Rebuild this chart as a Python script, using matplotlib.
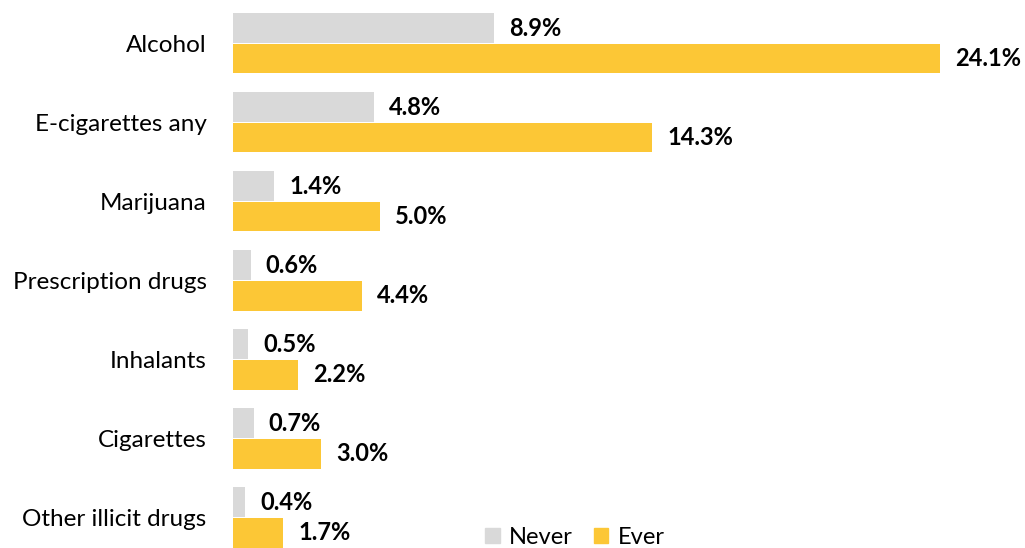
import matplotlib.pyplot as plt
from matplotlib.patches import Patch

# data
categories = ['Alcohol', 'E-cigarettes any', 'Marijuana', 'Prescription drugs',
              'Inhalants', 'Cigarettes', 'Other illicit drugs']
never = [8.9, 4.8, 1.4, 0.6, 0.5, 0.7, 0.4]
ever = [24.1, 14.3, 5.0, 4.4, 2.2, 3.0, 1.7]

plt.rcParams['font.family'] = ['Lato', 'DejaVu Sans']

fig = plt.figure(figsize=(10.25, 5.48), dpi=100)
ax = fig.add_axes([233 / 1025, 0, 1 - 233 / 1025, 1])

ypos = list(range(len(categories)))
h = 0.37
off = 0.195
ax.barh([y - off for y in ypos], never, height=h, color='#D9D9D9')
ax.barh([y + off for y in ypos], ever, height=h, color='#FCC736')

for y, a, b in zip(ypos, never, ever):
    ax.text(a + 0.52, y - off, f'{a:.1f}%', va='center', ha='left',
            fontsize=17, fontweight='bold', color='black')
    ax.text(b + 0.52, y + off, f'{b:.1f}%', va='center', ha='left',
            fontsize=17, fontweight='bold', color='black')

ax.set_xlim(0, 27)
ax.set_ylim(6.386, -0.55)
ax.set_yticks(ypos)
ax.set_yticklabels(categories, fontsize=17.5)
ax.tick_params(axis='y', length=0, pad=19)
ax.set_xticks([])
for s in ax.spines.values():
    s.set_visible(False)

handles = [Patch(color='#D9D9D9', label='Never'), Patch(color='#FCC736', label='Ever')]
fig.legend(handles=handles, loc='center', bbox_to_anchor=(0.561, 0.02), ncol=2,
           frameon=False, fontsize=17, handlelength=0.6, handleheight=0.6,
           handletextpad=0.4, columnspacing=0.9)

fig.savefig('out.png', dpi=100)
